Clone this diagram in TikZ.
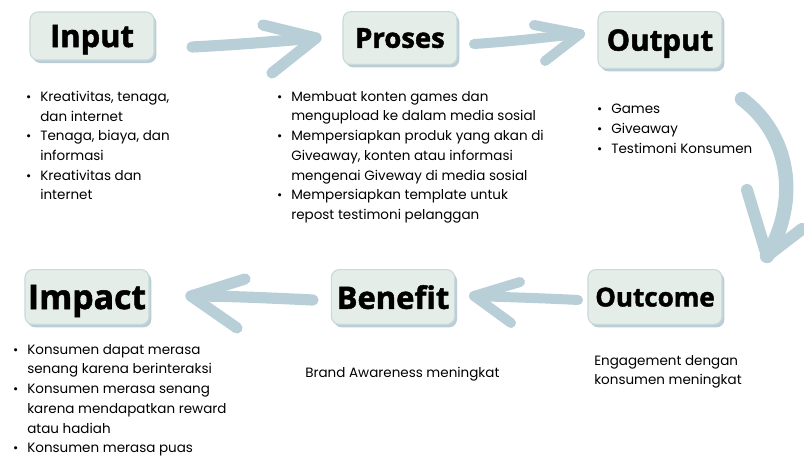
\documentclass[tikz,border=0pt]{standalone}
\usepackage{fontspec}
\setmainfont{Poppins}
\newfontfamily\headfont{Open Sans}[BoldFeatures={FakeBold=1.6}]
\usetikzlibrary{shadows}

\definecolor{boxfill}{HTML}{E4EDE7}
\definecolor{boxline}{HTML}{C9D9DC}
\definecolor{boxshade}{HTML}{B9CED6}
\definecolor{brushc}{HTML}{B9CFD8}

\newcommand{\bul}{\llap{\makebox[10pt][l]{\small\textbullet}}}

\tikzset{
    stage/.style={draw=boxline, line width=0.8pt, fill=boxfill, rounded corners=0.2cm,
        general shadow={fill=boxshade, shadow xshift=0.06cm, shadow yshift=-0.075cm},
        inner sep=0pt, text depth=0pt},
    head/.style={font=\headfont\bfseries\fontsize{#1}{#1}\selectfont},
    list/.style={anchor=north west, align=left, inner sep=0pt,
        font=\fontsize{9.6}{14}\selectfont},
    brush/.style={draw=brushc, line width=0.28cm, line cap=round, line join=round}
}

\begin{document}
\begin{tikzpicture}[x=0.025cm, y=-0.025cm]
\useasboundingbox (0,0) rectangle (804,458);

% stages
\node[stage, head=22, minimum width=3.1cm, minimum height=1.2cm] (input) at (92,36) {Input};
\node[stage, head=19.5, minimum width=2.85cm, minimum height=1.32cm] (proses) at (400,38) {Proses};
\node[stage, head=21, minimum width=3.1cm, minimum height=1.42cm] (output) at (660,40) {Output};
\node[stage, head=24, minimum width=3.1cm, minimum height=1.37cm] (impact) at (87,297) {Impact};
\node[stage, head=22, minimum width=3.08cm, minimum height=1.37cm] (benefit) at (393,297) {Benefit};
\node[stage, head=18.5, minimum width=3.35cm, minimum height=1.37cm] (outcome) at (655,297) {Outcome};

% details under each stage
\node[list] (inputtxt) at (40,91) {\bul Kreativitas, tenaga,\\ dan internet\\
    \bul Tenaga, biaya, dan\\ informasi\\ \bul Kreativitas dan\\ internet};
\node[list] (prosestxt) at (291,91) {\bul Membuat konten games dan\\ mengupload ke dalam media sosial\\
    \bul Mempersiapkan produk yang akan di\\ Giveaway, konten atau informasi\\
    mengenai Giveway di media sosial\\ \bul Mempersiapkan template untuk\\
    repost testimoni pelanggan};
\node[list] (outputtxt) at (611,104) {\bul Games\\ \bul Giveaway\\ \bul Testimoni Konsumen};
\node[list] (impacttxt) at (27,344) {\bul Konsumen dapat merasa\\ senang karena berinteraksi\\
    \bul Konsumen merasa senang\\ karena mendapatkan reward\\ atau hadiah\\
    \bul Konsumen merasa puas};
\node[list] (benefittxt) at (305,367) {Brand Awareness meningkat};
\node[list] (outcometxt) at (594,355) {Engagement dengan\\ konsumen meningkat};

% brush arrows
\coordinate (a1s) at (192,47);
\coordinate (a1t) at (316,38);
\draw[brush] (a1s) .. controls (250,44) and (290,40) .. (a1t);
\draw[brush] (263,25) -- (a1t) -- (272,73);

\coordinate (a2s) at (474,44);
\coordinate (a2t) at (580,34);
\draw[brush, line width=0.25cm] (a2s) .. controls (520,41) and (555,36) .. (a2t);
\draw[brush, line width=0.25cm] (534,25) -- (a2t) -- (545,61);

\coordinate (a3s) at (742,99);
\coordinate (a3t) at (767,256);
\draw[brush, line width=0.36cm] (a3s) .. controls (790,135) and (800,200) .. (a3t);
\draw[brush, line width=0.3cm] (747,190) -- (a3t) -- (802,229);

\coordinate (a4s) at (578,300);
\coordinate (a4t) at (474,296);
\draw[brush, line width=0.25cm] (a4s) .. controls (540,298) and (500,297) .. (a4t);
\draw[brush, line width=0.25cm] (520,282) -- (a4t) -- (511,323);

\coordinate (a5s) at (313,300);
\coordinate (a5t) at (191,296);
\draw[brush] (a5s) .. controls (270,298) and (230,296) .. (a5t);
\draw[brush] (245,279) -- (a5t) -- (237,328);
\end{tikzpicture}
\end{document}
